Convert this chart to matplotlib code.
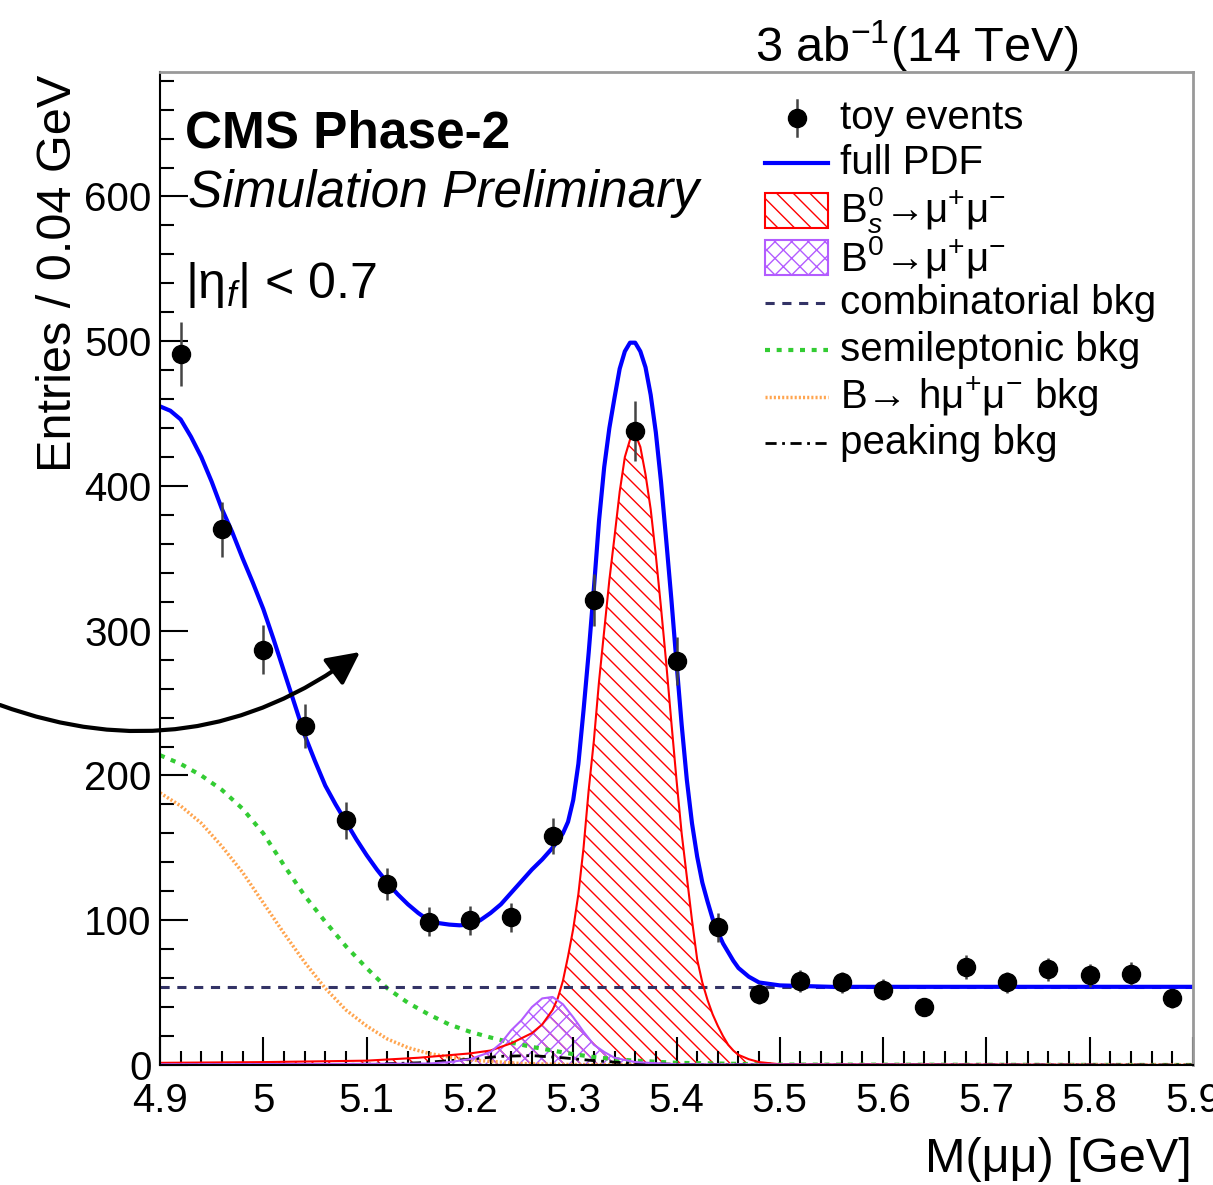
import numpy as np
import matplotlib
matplotlib.use("Agg")
import matplotlib.pyplot as plt
from matplotlib.patches import Rectangle, FancyArrowPatch
from matplotlib.ticker import MultipleLocator, FuncFormatter

plt.rcParams['font.family'] = ['Liberation Sans', 'DejaVu Sans']
plt.rcParams['mathtext.fontset'] = 'custom'
plt.rcParams['mathtext.rm'] = 'Liberation Sans'
plt.rcParams['mathtext.it'] = 'Liberation Sans:italic'
plt.rcParams['mathtext.bf'] = 'Liberation Sans:bold'
plt.rcParams['hatch.linewidth'] = 1.0

# toy events (bin centres, 0.04 GeV bins)
mass_bins = [4.92, 4.96, 5.00, 5.04, 5.08, 5.12, 5.16, 5.20, 5.24, 5.28, 5.32, 5.36, 5.40,
             5.44, 5.48, 5.52, 5.56, 5.60, 5.64, 5.68, 5.72, 5.76, 5.80, 5.84, 5.88]
toy_counts = [491, 370, 287, 234, 169, 125, 99, 100, 102, 158, 321, 438, 279,
              95, 49, 58, 57, 52, 40, 68, 57, 66, 62, 63, 46]

# full PDF
pdf_x = [4.90, 4.91, 4.92, 4.93, 4.94, 4.95, 4.96, 4.97, 4.98, 4.99, 5.00, 5.01, 5.02, 5.03,
         5.04, 5.05, 5.06, 5.07, 5.08, 5.09, 5.10, 5.11, 5.12, 5.13, 5.14, 5.15, 5.16, 5.17,
         5.18, 5.19, 5.20, 5.21, 5.22, 5.23, 5.24, 5.25, 5.26, 5.27, 5.28, 5.29, 5.295,
         5.300, 5.305, 5.310, 5.315, 5.320, 5.325, 5.330, 5.335, 5.340, 5.345, 5.350, 5.355,
         5.360, 5.365, 5.370, 5.375, 5.380, 5.385, 5.390, 5.395, 5.400, 5.405, 5.410, 5.415,
         5.420, 5.425, 5.430, 5.435, 5.440, 5.445, 5.450, 5.455, 5.460, 5.470, 5.480, 5.490,
         5.500, 5.550, 5.900]
pdf_y = [455, 452, 446, 434, 420, 403, 384, 368, 350, 333, 315, 294, 272, 250,
         228, 210, 193, 180, 168, 156, 145, 135, 126, 118, 111, 105, 100, 98,
         97, 96.5, 97, 100, 105, 111, 119, 127, 135, 142, 150, 160, 168,
         183, 208, 245, 285, 329, 376, 413, 440, 461, 481, 493, 499,
         499, 493, 482, 463, 437, 403, 363, 322, 278, 235, 197, 167,
         144, 126, 113, 101, 92, 84, 78, 72, 67, 61, 57, 56,
         55, 54, 54]

# Bs -> mu mu
bs_x = [4.90, 5.00, 5.10, 5.15, 5.20, 5.22, 5.24, 5.26, 5.27, 5.28, 5.285, 5.29, 5.295,
        5.300, 5.305, 5.310, 5.315, 5.320, 5.325, 5.330, 5.335, 5.340, 5.345, 5.350, 5.355,
        5.360, 5.365, 5.370, 5.375, 5.380, 5.385, 5.390, 5.395, 5.400, 5.405, 5.410, 5.415,
        5.420, 5.425, 5.430, 5.435, 5.440, 5.445, 5.450, 5.455, 5.460, 5.470, 5.480, 5.500,
        5.900]
bs_y = [1.5, 2, 3, 5, 8, 10, 15, 22, 28, 38, 46, 58, 75,
        94, 118, 150, 190, 224, 265, 300, 335, 365, 396, 420, 432,
        436, 427, 408, 384, 352, 316, 278, 237, 197, 160, 130, 100,
        73, 57, 45, 35, 27, 20, 14, 10, 7, 4, 2, 0.5,
        0]

# B0 -> mu mu
b0_x = [4.90, 5.10, 5.16, 5.18, 5.20, 5.22, 5.23, 5.24, 5.25, 5.26, 5.27, 5.28, 5.29, 5.30,
        5.31, 5.32, 5.33, 5.34, 5.36, 5.40, 5.90]
b0_y = [0.5, 0.8, 1, 2, 4, 9, 15, 24, 31, 40, 46, 47, 42, 33,
        23, 14, 9, 5, 2, 0.5, 0]

# background components
comb_x = [4.90, 5.90]
comb_y = [54, 54]

semi_x = [4.90, 4.92, 4.94, 4.96, 4.98, 5.00, 5.02, 5.04, 5.06, 5.08, 5.10, 5.12, 5.14,
          5.16, 5.18, 5.20, 5.22, 5.24, 5.26, 5.28, 5.30, 5.32, 5.34, 5.36, 5.40, 5.50, 5.90]
semi_y = [214, 208, 200, 190, 177, 160, 138, 117, 99, 82, 67, 53, 43,
          35, 28, 23, 19, 15.5, 12.5, 10, 7.5, 5.5, 4, 3, 1.5, 0.3, 0]

hmm_x = [4.90, 4.92, 4.94, 4.96, 4.98, 5.00, 5.02, 5.04, 5.06, 5.08, 5.10, 5.12, 5.14,
         5.16, 5.18, 5.20, 5.25, 5.30, 5.90]
hmm_y = [188, 179, 167, 151, 133, 112, 91, 71, 53, 38, 27, 18, 12,
         8, 5.5, 3.5, 1, 0.3, 0]

peak_x = [4.90, 5.10, 5.15, 5.20, 5.23, 5.26, 5.29, 5.32, 5.36, 5.42, 5.90]
peak_y = [0, 0.5, 1.5, 4, 6, 6.5, 5, 3, 1, 0.3, 0]

red = '#ff0000'
violet = '#b35cff'
navy = '#333366'
green = '#33cc33'
orange = '#ffa54f'

fig = plt.figure(figsize=(12.13, 11.85), dpi=100)
ax = fig.add_axes([160/1213, 1-1065/1185, 1033/1213, 993/1185])

ax.plot(semi_x, semi_y, color=green, lw=3, linestyle=(0, (1.2, 1.6)))
ax.plot(hmm_x, hmm_y, color=orange, lw=2.5, linestyle=(0, (0.6, 0.6)))
ax.plot(comb_x, comb_y, color=navy, lw=2.2, linestyle=(0, (3, 2.5)))
ax.plot(peak_x, peak_y, color='black', lw=2, linestyle=(0, (4, 2, 1, 2)))

ax.fill_between(bs_x, 0, bs_y, facecolor='none', edgecolor=red, hatch='\\\\', lw=0)
ax.plot(bs_x, bs_y, color=red, lw=1.5)
ax.fill_between(b0_x, 0, b0_y, facecolor='none', edgecolor=violet, hatch='xx', lw=0)
ax.plot(b0_x, b0_y, color=violet, lw=1.5)

ax.plot(pdf_x, pdf_y, color='#0000ff', lw=3)

errs = np.sqrt(toy_counts)
ax.errorbar(mass_bins, toy_counts, yerr=errs, fmt='o', color='black', ms=13,
            ecolor='#444444', elinewidth=1.8, capsize=0, zorder=5)

ax.set_xlim(4.9, 5.9)
ax.set_ylim(0, 686)
ax.xaxis.set_major_locator(MultipleLocator(0.1))
ax.xaxis.set_minor_locator(MultipleLocator(0.02))
ax.yaxis.set_major_locator(MultipleLocator(100))
ax.yaxis.set_minor_locator(MultipleLocator(20))
ax.xaxis.set_major_formatter(FuncFormatter(lambda v, p: '%g' % round(v, 2)))
ax.tick_params(which='both', direction='in', top=False, right=False, labelsize=29, width=1.5)
ax.tick_params(which='major', length=20)
ax.tick_params(which='minor', length=10)
ax.tick_params(axis='x', pad=12)
ax.tick_params(axis='y', pad=6)
for s in ['left', 'bottom']:
    ax.spines[s].set_color('black')
    ax.spines[s].set_linewidth(1.5)
for s in ['top', 'right']:
    ax.spines[s].set_color('#999999')
    ax.spines[s].set_linewidth(2)

# labels
tr = ax.transAxes
ax.text(0.0242, 0.9235, 'CMS Phase-2', transform=tr, fontsize=37, fontweight='bold', va='baseline')
ax.text(0.027, 0.864, 'Simulation Preliminary', transform=tr, fontsize=37, style='italic', va='baseline')
ax.text(0.0242, 0.7724, '|η$_{f}$| < 0.7', transform=tr, fontsize=36, va='baseline')
fig.text(1078/1213, 1-62/1185, '3 ab$^{-1}$(14 TeV)', fontsize=35, ha='right', va='baseline')
fig.text(59/1213, 1-75/1185, 'Entries / 0.04 GeV', fontsize=35, rotation=90, ha='center', va='top')
fig.text(1192/1213, 1-1182/1185, 'M(μμ) [GeV]', fontsize=35, ha='right', va='bottom')

# legend
rows_px = [118, 163, 210, 257, 303, 350, 397, 443]
ry = [(1065 - r)/993 for r in rows_px]
hx0, hx1, tx = (765-160)/1033, (828-160)/1033, (840-160)/1033
labels = ['toy events', 'full PDF', 'B$^{0}_{s}$→μ$^{+}$μ$^{-}$', 'B$^{0}$→μ$^{+}$μ$^{-}$',
          'combinatorial bkg', 'semileptonic bkg', 'B→ hμ$^{+}$μ$^{-}$ bkg', 'peaking bkg']
for y, lab in zip(ry, labels):
    ax.text(tx, y, lab, transform=tr, fontsize=29, va='center')
mx = (hx0 + hx1)/2
ax.plot([mx, mx], [ry[0]-0.018, ry[0]+0.018], transform=tr, color='#444444', lw=1.8, clip_on=False)
ax.plot([mx], [ry[0]], 'o', transform=tr, color='black', ms=13, clip_on=False)
ax.plot([hx0, hx1], [ry[1]]*2, transform=tr, color='#0000ff', lw=3, clip_on=False)
bh = 35/993
ax.add_patch(Rectangle((hx0, ry[2]-bh/2), hx1-hx0, bh, transform=tr, facecolor='white',
                       edgecolor=red, hatch='\\\\', lw=1.5, clip_on=False))
ax.add_patch(Rectangle((hx0, ry[3]-bh/2), hx1-hx0, bh, transform=tr, facecolor='white',
                       edgecolor=violet, hatch='xx', lw=1.5, clip_on=False))
ax.plot([hx0, hx1], [ry[4]]*2, transform=tr, color=navy, lw=2.2, linestyle=(0, (3, 2.5)), clip_on=False)
ax.plot([hx0, hx1], [ry[5]]*2, transform=tr, color=green, lw=3, linestyle=(0, (1.2, 1.6)), clip_on=False)
ax.plot([hx0, hx1], [ry[6]]*2, transform=tr, color=orange, lw=2.5, linestyle=(0, (0.6, 0.6)), clip_on=False)
ax.plot([hx0, hx1], [ry[7]]*2, transform=tr, color='black', lw=2, linestyle=(0, (4, 2, 1, 2)), clip_on=False)

# curved arrow pointing into the plot
fig.patches.append(FancyArrowPatch(
    (0, 1-705/1185), (360/1213, 1-652/1185), transform=fig.transFigure,
    connectionstyle='arc3,rad=0.27', arrowstyle='-|>', mutation_scale=50,
    lw=3, color='black', shrinkA=0, shrinkB=0))

fig.savefig('out.png', dpi=100)
